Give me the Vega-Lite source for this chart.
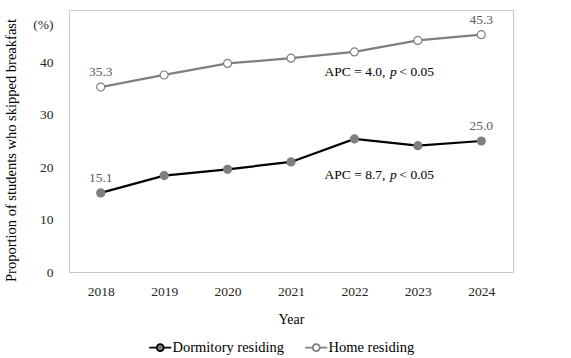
{
  "$schema": "https://vega.github.io/schema/vega-lite/v6.json",
  "width": 444,
  "height": 262,
  "autosize": {"type": "none"},
  "padding": {"left": 69, "top": 10, "right": 58, "bottom": 86},
  "background": "white",
  "config": {
    "font": "Liberation Serif",
    "view": {"stroke": "#c8c8c8", "strokeWidth": 1},
    "axis": {
      "grid": false, "domain": false, "ticks": false,
      "labelFont": "Liberation Serif", "labelFontSize": 13.5, "labelColor": "#262626", "labelFontWeight": "normal",
      "titleFont": "Liberation Serif", "titleFontSize": 14, "titleFontWeight": "normal", "titleColor": "#000000"
    }
  },
  "datasets": {
    "series": [
      {"series": "Dormitory residing", "year": "2018", "value": 15.1},
      {"series": "Dormitory residing", "year": "2019", "value": 18.4},
      {"series": "Dormitory residing", "year": "2020", "value": 19.6},
      {"series": "Dormitory residing", "year": "2021", "value": 21.0},
      {"series": "Dormitory residing", "year": "2022", "value": 25.4},
      {"series": "Dormitory residing", "year": "2023", "value": 24.1},
      {"series": "Dormitory residing", "year": "2024", "value": 25.0},
      {"series": "Home residing", "year": "2018", "value": 35.3},
      {"series": "Home residing", "year": "2019", "value": 37.6},
      {"series": "Home residing", "year": "2020", "value": 39.8},
      {"series": "Home residing", "year": "2021", "value": 40.8},
      {"series": "Home residing", "year": "2022", "value": 42.0},
      {"series": "Home residing", "year": "2023", "value": 44.2},
      {"series": "Home residing", "year": "2024", "value": 45.3}
    ],
    "ann": [
      {"year": "2022", "value": 38.2, "pre": "APC = 4.0,", "p": "p", "post": "< 0.05"},
      {"year": "2022", "value": 18.5, "pre": "APC = 8.7,", "p": "p", "post": "< 0.05"}
    ]
  },
  "encoding": {
    "x": {
      "field": "year", "type": "ordinal",
      "scale": {"type": "point", "padding": 0.5},
      "axis": {"labelAngle": 0, "title": "Year", "labelPadding": 12, "titlePadding": 15}
    },
    "y": {
      "field": "value", "type": "quantitative",
      "scale": {"domain": [0, 50], "nice": false},
      "axis": {
        "values": [0, 10, 20, 30, 40, 50],
        "labelExpr": "datum.value == 50 ? '(%)' : datum.label",
        "labelOffset": {"condition": {"test": "datum.value == 50", "value": 14}, "value": 0},
        "labelPadding": 16,
        "title": "Proportion of students who skipped breakfast",
        "titleFontSize": 14.5,
        "titleY": 140,
        "titlePadding": 14
      }
    }
  },
  "layer": [
    {
      "data": {"name": "series"},
      "mark": {"type": "line", "strokeWidth": 2.25},
      "encoding": {
        "stroke": {
          "field": "series", "type": "nominal",
          "scale": {"domain": ["Dormitory residing", "Home residing"], "range": ["#000000", "#7f7f7f"]},
          "legend": {
            "title": null,
            "orient": "none",
            "direction": "horizontal",
            "legendX": 84,
            "legendY": 330,
            "symbolType": "M-2.2,0L-0.7,0M0.7,0L2.2,0M-0.7,0A0.7,0.7,0,1,1,0.7,0A0.7,0.7,0,1,1,-0.7,0",
            "symbolSize": 100,
            "symbolStrokeWidth": 1.8,
            "labelOffset": 5,
            "labelFont": "Liberation Serif",
            "labelFontSize": 14.5,
            "labelColor": "#000000",
            "columnPadding": 16,
            "encode": {
              "symbols": {
                "update": {
                  "fill": {"signal": "datum.value === 'Home residing' ? '#ffffff' : '#7f7f7f'"},
                  "fillOpacity": {"value": 1}
                }
              }
            }
          }
        }
      }
    },
    {
      "data": {"name": "series"},
      "mark": {"type": "point", "filled": true, "size": 64, "stroke": "#7f7f7f", "strokeWidth": 1.2, "opacity": 1},
      "encoding": {
        "fill": {
          "field": "series", "type": "nominal",
          "scale": {"domain": ["Dormitory residing", "Home residing"], "range": ["#7f7f7f", "#ffffff"]},
          "legend": null
        }
      }
    },
    {
      "data": {"name": "series"},
      "transform": [{"filter": "datum.year == '2018' || datum.year == '2024'"}],
      "mark": {"type": "text", "dy": -15, "fontSize": 13.5, "color": "#595959", "font": "Liberation Serif"},
      "encoding": {
        "text": {"field": "value", "type": "quantitative", "format": ".1f"}
      }
    },
    {
      "data": {"name": "ann"},
      "mark": {"type": "text", "align": "right", "dx": 31, "fontSize": 13.5, "color": "#000000", "font": "Liberation Serif"},
      "encoding": {"text": {"field": "pre"}}
    },
    {
      "data": {"name": "ann"},
      "mark": {"type": "text", "align": "center", "dx": 39, "fontSize": 13.5, "fontStyle": "italic", "color": "#000000", "font": "Liberation Serif"},
      "encoding": {"text": {"field": "p"}}
    },
    {
      "data": {"name": "ann"},
      "mark": {"type": "text", "align": "left", "dx": 45, "fontSize": 13.5, "color": "#000000", "font": "Liberation Serif"},
      "encoding": {"text": {"field": "post"}}
    }
  ]
}
